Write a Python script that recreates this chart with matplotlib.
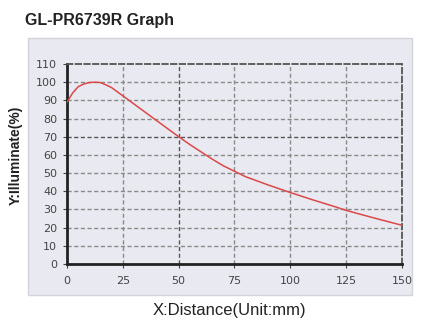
import matplotlib.pyplot as plt
from matplotlib.patches import Rectangle

plt.rcParams['font.family'] = ['Liberation Sans', 'DejaVu Sans']

distance = [0, 2.5, 5, 7.5, 10, 12.5, 15, 17.5, 20, 25, 30, 35, 40, 45, 50,
            55, 60, 65, 70, 75, 80, 90, 100, 110, 120, 125, 130, 140, 150]
illuminate = [89, 94, 97.5, 99, 99.8, 100, 99.8, 98.5, 97, 92.5, 88, 83.5, 79,
              74.5, 70, 65.7, 61.7, 57.7, 54, 51, 48, 43.5, 39.3, 35.3, 31.5,
              29.5, 27.8, 24.5, 21.3]
x_ticks = [0, 25, 50, 75, 100, 125, 150]
y_ticks = [0, 10, 20, 30, 40, 50, 60, 70, 80, 90, 100, 110]

fig = plt.figure(figsize=(4.37, 3.32), dpi=100)
fig.patch.set_facecolor('white')

# marble-like background panel
fig.patches.append(Rectangle((28 / 437, 1 - 295 / 332), 384 / 437, 257 / 332,
                             transform=fig.transFigure, facecolor='#e9e9f1',
                             edgecolor='#d4d4dc', linewidth=1, zorder=-1))

ax = fig.add_axes([67 / 437, 1 - 264 / 332, 335 / 437, 200 / 332])
ax.set_facecolor('none')
ax.set_zorder(2)

ax.plot(distance, illuminate, color='#dc4848', linewidth=1.1, zorder=3)

ax.set_xlim(0, 150)
ax.set_ylim(0, 110)
ax.set_xticks(x_ticks)
ax.set_yticks(y_ticks)
ax.tick_params(colors='#444444', length=3, width=0.8)
ax.tick_params(axis='x', pad=6)
ax.tick_params(axis='y', pad=4)
for lab in ax.get_xticklabels() + ax.get_yticklabels():
    lab.set_fontfamily('DejaVu Sans')
    lab.set_fontsize(8)

for x in x_ticks[1:-1]:
    c = '#555555' if x == 50 else '#8a8a8a'
    ax.axvline(x, color=c, linewidth=1, linestyle=(0, (3, 1.8)), zorder=1)
for y in y_ticks[1:-1]:
    c = '#555555' if y == 70 else '#8a8a8a'
    ax.axhline(y, color=c, linewidth=1, linestyle=(0, (3, 1.8)), zorder=1)

ax.spines['left'].set_linewidth(2)
ax.spines['bottom'].set_linewidth(2)
ax.spines['left'].set_color('#222222')
ax.spines['bottom'].set_color('#222222')
for s in ['top', 'right']:
    ax.spines[s].set_color('#555555')
    ax.spines[s].set_linewidth(1.3)
    ax.spines[s].set_linestyle((0, (3, 1.8)))

fig.text(25 / 437, 1 - 20 / 332, 'GL-PR6739R Graph', fontsize=11.5,
         fontweight='bold', va='center', ha='left', color='#222222')
fig.text(16 / 437, 1 - 155 / 332, 'Y:Illuminate(%)', fontsize=10,
         fontweight='bold', rotation=90, va='center', ha='center',
         color='#222222')
fig.text(229 / 437, 1 - 310 / 332, 'X:Distance(Unit:mm)', fontsize=12,
         va='center', ha='center', color='#222222')

plt.savefig('out.png', dpi=100)
